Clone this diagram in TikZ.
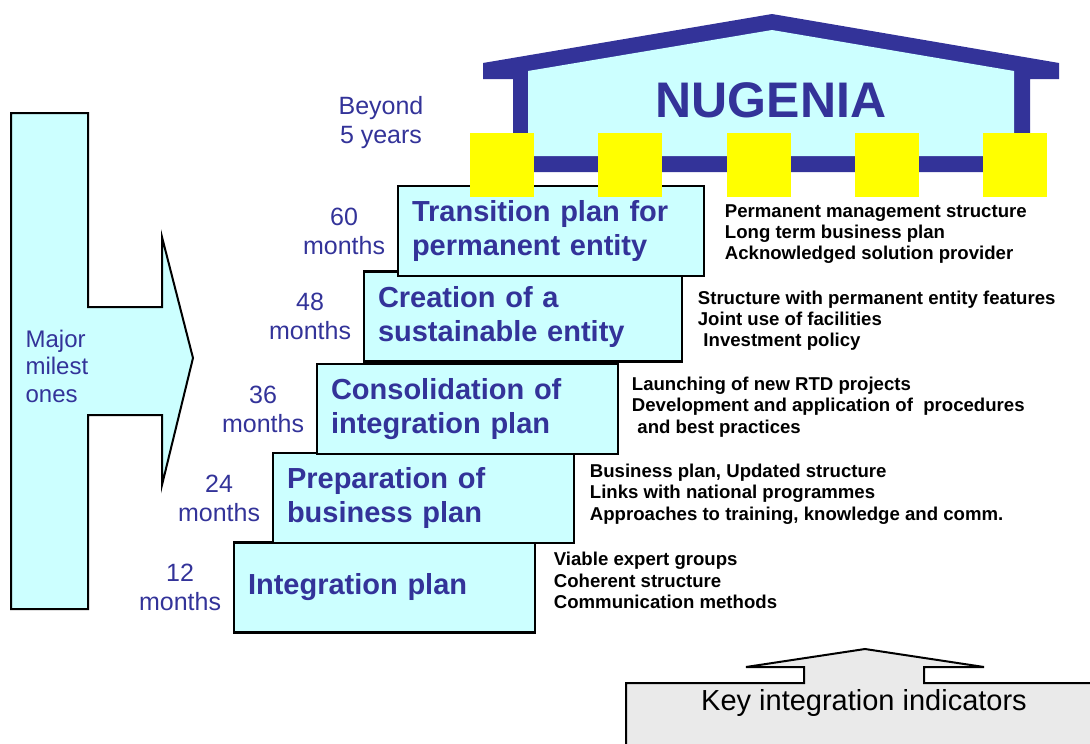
\documentclass[tikz,border=0pt]{standalone}
\usepackage{fontspec}
\setmainfont{Liberation Sans}
\usetikzlibrary{positioning}
\definecolor{nblue}{HTML}{333399}
\definecolor{ncyan}{HTML}{CCFFFF}
\definecolor{nyellow}{HTML}{FFFF00}
\definecolor{ngrey}{HTML}{EAEAEA}
\tikzset{
  every picture/.style={line width=1.2pt},
  stage/.style={draw=black, fill=ncyan, line width=2.6pt, inner xsep=14pt, text width=#1, minimum height=90pt, align=left, text=nblue, font=\fontsize{29}{34}\selectfont\bfseries},
  stage/.default=273pt,
  months/.style={text=nblue, align=center, inner sep=0pt, font=\fontsize{25}{29}\selectfont},
  goals/.style={align=left, inner sep=0pt, font=\fontsize{18.6}{21.3}\selectfont\bfseries},
  outline/.style={draw=black, line width=2pt, line join=miter},
}
\begin{document}
\begin{tikzpicture}[x=1pt, y=-1pt]
  \useasboundingbox (0,0) rectangle (1090,744);
  \clip (0,0) rectangle (1090,744);
  % major milestones arrow
  \draw[outline, fill=ncyan] (11,113) -- (88,113) -- (88,307) -- (162,307) -- (162,237) -- (193,358)
    -- (162,485) -- (162,415) -- (88,415) -- (88,609) -- (11,609) -- cycle;
  \node[anchor=west, text=nblue, align=left, inner sep=0pt, font=\fontsize{24}{27.5}\selectfont] (major) at (25,366) {Major\\milest\\ones};
  % stairs
  \node[stage] (s1) at (384.5,587.5) {Integration plan};
  \node[stage] (s2) at (423.5,498) {Preparation of\\business plan};
  \node[stage] (s3) at (467.5,409) {Consolidation of\\integration plan};
  \node[stage=290pt] (s4) at (523,316.5) {Creation of a\\sustainable entity};
  \node[stage=278pt] (s5) at (551,231) {Transition plan for\\permanent entity};
  \foreach \s/\m in {s1/12, s2/24, s3/36, s4/48, s5/60}
    \node[months, left=11pt of \s] (m\m) {\m\\months};
  \node[months] (beyond) at (381,123) {Beyond\\5 years};
  % goals of each stage
  \node[goals, right=17pt of s1, yshift=7pt] (g1) {Viable expert groups\\Coherent structure\\Communication methods};
  \node[goals, right=14pt of s2, yshift=4pt] (g2) {Business plan, Updated structure\\Links with national programmes\\Approaches to training, knowledge and comm.};
  \node[goals, right=12pt of s3, yshift=2pt] (g3) {Launching of new RTD projects\\Development and application of~ procedures\\\hspace*{0.3em}and best practices};
  \node[goals, right=14pt of s4, yshift=-4pt] (g4) {Structure with permanent entity features\\Joint use of facilities\\\hspace*{0.3em}Investment policy};
  \node[goals, right=19pt of s5, yshift=-3pt] (g5) {Permanent management structure\\Long term business plan\\Acknowledged solution provider};
  % house
  \fill[nblue] (483,63) -- (772,14) -- (1059,63) -- (1059,79) -- (1030,79) -- (1030,172) -- (513,172)
    -- (513,79) -- (483,79) -- cycle;
  \fill[ncyan] (528,71) -- (772,30) -- (1014,71) -- (1014,156) -- (528,156) -- cycle;
  \node[text=nblue, font=\fontsize{50}{60}\selectfont\bfseries] (nugenia) at (771,100) {NUGENIA};
  \foreach \i in {0,...,4}
    \fill[nyellow] (470+128.25*\i,133) rectangle ++(64,64);
  % key integration indicators
  \draw[outline, fill=ngrey] (626,760) -- (626,683) -- (804,683) -- (804,667) -- (746,667) -- (865,649)
    -- (984,667) -- (924,667) -- (924,683) -- (1100,683) -- (1100,760) -- cycle;
  \node[font=\fontsize{29}{34}\selectfont] (kii) at (864,703) {Key integration indicators};
\end{tikzpicture}
\end{document}
